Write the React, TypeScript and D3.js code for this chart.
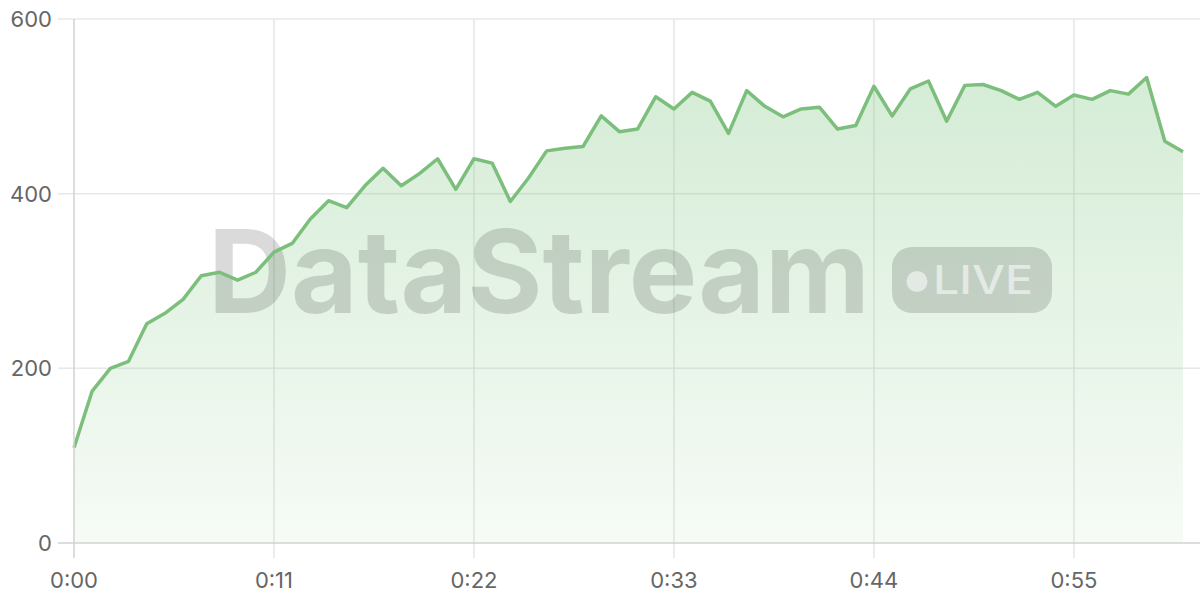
import React, { useEffect, useRef } from 'react';
import * as d3 from 'd3';

// seconds since start, one sample per second
const seconds: number[] = d3.range(0, 62);
const values: number[] = [
  109, 174, 200, 208, 251, 263, 279, 306, 310, 301,
  310, 333, 343, 371, 392, 384, 409, 429, 409, 423,
  440, 405, 440, 435, 391, 418, 449, 452, 454, 489,
  471, 474, 511, 497, 516, 506, 469, 518, 500, 488,
  497, 499, 474, 478, 523, 489, 520, 529, 483, 524,
  525, 518, 508, 516, 500, 513, 508, 518, 514, 533,
  460, 448,
];
const xTicks: number[] = [0, 11, 22, 33, 44, 55];
const yTicks: number[] = [0, 200, 400, 600];
const watermark = 'DataStream';
const badge = 'LIVE';

const fmtTime = (s: number) => `${Math.floor(s / 60)}:${String(s % 60).padStart(2, '0')}`;

const App: React.FC = () => {
  const ref = useRef<SVGSVGElement | null>(null);

  useEffect(() => {
    if (!ref.current) return;
    const svg = d3.select(ref.current);
    svg.selectAll('*').remove();

    const W = 1200, H = 600;
    const left = 74, top = 19, bottom = 543;

    const x = d3.scaleLinear().domain([0, 61]).range([left, 1183]);
    const y = d3.scaleLinear().domain([0, 600]).range([bottom, top]);

    const defs = svg.append('defs');
    const grad = defs.append('linearGradient')
      .attr('id', 'areaFill')
      .attr('gradientUnits', 'userSpaceOnUse')
      .attr('x1', 0).attr('x2', 0).attr('y1', y(540)).attr('y2', bottom);
    grad.append('stop').attr('offset', '0%').attr('stop-color', '#81c784').attr('stop-opacity', 0.34);
    grad.append('stop').attr('offset', '100%').attr('stop-color', '#81c784').attr('stop-opacity', 0.07);

    // horizontal grid
    svg.append('g')
      .selectAll('line')
      .data(yTicks.filter(t => t !== 0))
      .join('line')
      .attr('x1', left - 16).attr('x2', W)
      .attr('y1', d => y(d)).attr('y2', d => y(d))
      .attr('stroke', '#e8e8e8').attr('stroke-width', 1.5);

    // vertical grid
    svg.append('g')
      .selectAll('line')
      .data(xTicks.filter(t => t !== 0))
      .join('line')
      .attr('x1', d => x(d)).attr('x2', d => x(d))
      .attr('y1', top).attr('y2', bottom + 15)
      .attr('stroke', '#e6e6e6').attr('stroke-width', 1.5);

    // area
    const pts = seconds.map((s, i) => [s, values[i]] as [number, number]);
    svg.append('path')
      .datum(pts)
      .attr('fill', 'url(#areaFill)')
      .attr('d', d3.area<[number, number]>().x(d => x(d[0])).y0(bottom).y1(d => y(d[1])));

    // watermark
    const wm = svg.append('g').attr('opacity', 0.14);
    wm.append('text')
      .attr('x', 208).attr('y', 313)
      .attr('font-family', 'Inter, "Noto Sans", sans-serif')
      .attr('font-weight', 700)
      .attr('font-size', 115)
      .attr('textLength', 662)
      .attr('fill', '#000')
      .text(watermark);
    wm.append('rect')
      .attr('x', 892).attr('y', 247).attr('width', 160).attr('height', 66).attr('rx', 20)
      .attr('fill', '#000');
    svg.append('circle')
      .attr('cx', 917).attr('cy', 281.5).attr('r', 10.5)
      .attr('fill', '#fff').attr('opacity', 0.55);
    svg.append('text')
      .attr('x', 933).attr('y', 294)
      .attr('font-family', 'Inter, "Noto Sans", sans-serif')
      .attr('font-weight', 500)
      .attr('font-size', 39)
      .attr('textLength', 100)
      .attr('lengthAdjust', 'spacingAndGlyphs')
      .attr('fill', '#fff').attr('opacity', 0.55)
      .text(badge);

    // line
    svg.append('path')
      .datum(pts)
      .attr('fill', 'none')
      .attr('stroke', '#7cbf7c')
      .attr('stroke-width', 3.5)
      .attr('stroke-linejoin', 'round')
      .attr('d', d3.line<[number, number]>().x(d => x(d[0])).y(d => y(d[1])));

    // axis lines
    svg.append('line')
      .attr('x1', left).attr('x2', left).attr('y1', top).attr('y2', bottom + 15)
      .attr('stroke', '#d2d2d2').attr('stroke-width', 1.5);
    svg.append('line')
      .attr('x1', left - 16).attr('x2', W).attr('y1', bottom).attr('y2', bottom)
      .attr('stroke', '#d2d2d2').attr('stroke-width', 1.5);

    // tick labels
    svg.append('g')
      .selectAll('text')
      .data(yTicks)
      .join('text')
      .attr('x', 52).attr('y', d => y(d) + 8)
      .attr('text-anchor', 'end')
      .attr('font-family', 'Inter, "Noto Sans", sans-serif')
      .attr('font-size', 22)
      .attr('fill', '#666')
      .text(d => String(d));

    svg.append('g')
      .selectAll('text')
      .data(xTicks)
      .join('text')
      .attr('x', d => x(d)).attr('y', 588)
      .attr('text-anchor', 'middle')
      .attr('font-family', 'Inter, "Noto Sans", sans-serif')
      .attr('font-size', 22)
      .attr('fill', '#666')
      .text(d => fmtTime(d));

    svg.attr('width', W).attr('height', H);
  }, []);

  return (
    <svg
      ref={ref}
      width={1200}
      height={600}
      style={{ position: 'absolute', left: 0, top: 0, background: '#fff' }}
    />
  );
};

export default App;
